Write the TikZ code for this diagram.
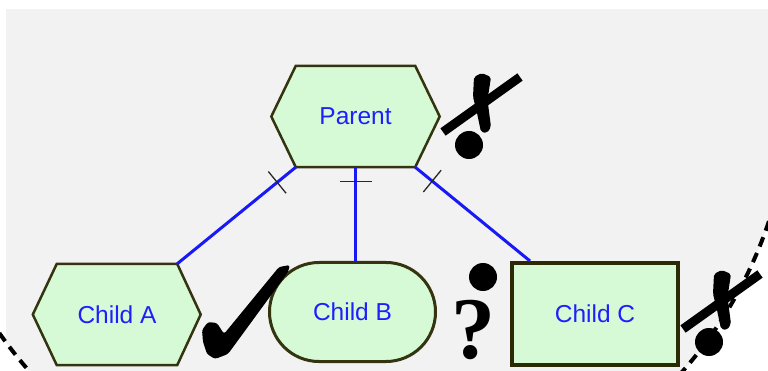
\documentclass[tikz,border=0pt]{standalone}
\usepackage{fontspec}
\setmainfont{Liberation Sans}
\newfontfamily\qfont{Liberation Serif}
\usetikzlibrary{calc,shapes.misc}
\pgfdeclarelayer{bg}
\pgfsetlayers{bg,main}

\definecolor{panel}{RGB}{242,242,242}
\definecolor{nodefill}{RGB}{214,250,214}
\definecolor{nodeline}{RGB}{52,52,16}
\definecolor{boxline}{RGB}{42,42,5}
\definecolor{labelblue}{RGB}{30,30,255}
\definecolor{linkblue}{RGB}{25,25,245}
\definecolor{tickgray}{RGB}{40,40,40}

\tikzset{
  box/.style={inner sep=0pt, text=labelblue, font=\fontsize{24.5}{28}\selectfont},
  hexbody/.style={box, minimum width=#1, minimum height=101pt},
  hexline/.style={fill=nodefill, draw=nodeline, line width=2.5pt, line join=miter},
  pillbox/.style={box, rounded rectangle, fill=nodefill, draw=nodeline, line width=3pt},
  plainbox/.style={box, rectangle, fill=nodefill, draw=boxline, line width=4pt},
  link/.style={draw=linkblue, line width=3pt},
  tickline/.style={draw=tickgray, line width=1.3pt},
  boundary/.style={draw=black, line width=4pt, dash pattern=on 10pt off 7pt},
  qmark/.style={inner sep=0pt, font=\qfont\bfseries\fontsize{88}{88}\selectfont},
  nomark/.pic={
    \draw[line width=9pt] (0,0) -- (77,-55);
    \fill[rounded corners=2pt] (30,-35) -- (31,-55) -- (38.7,-59) -- (48,-55)
      -- (44.5,-32) -- (48,-5) -- (44,1) -- (38,0) -- (34,-19) -- cycle;
    \fill (26,13) circle (14pt);
  }
}

\begin{document}
\begin{tikzpicture}[x=1pt,y=-1pt]
\useasboundingbox (0,0) rectangle (768,371);
\clip (0,0) rectangle (768,371);

% backdrop: grey panel inside the large dashed boundary circle
\begin{pgfonlayer}{bg}
  \fill[white] (0,0) rectangle (768,371);
  \begin{scope}
    \clip (356,84) circle (435pt);
    \fill[panel] (6,9) rectangle (768,371);
  \end{scope}
  \draw[boundary] (356,84) circle (435pt);
\end{pgfonlayer}

% nodes
\node[hexbody=119pt] (parent) at (355.5,116.5) {Parent};
\node[hexbody=120pt] (childA) at (117,314.5) {Child A};
\node[pillbox, minimum width=166pt, minimum height=99pt] (childB) at (352.5,312) {Child B};
\node[plainbox, minimum width=166pt, minimum height=102pt] (childC) at (595,314) {Child C};

% hexagon outlines behind the two hexagonal nodes
\begin{pgfonlayer}{bg}
  \draw[hexline] (parent.north west) -- (parent.north east) -- ([xshift=24.5pt]parent.east)
    -- (parent.south east) -- (parent.south west) -- ([xshift=-24.5pt]parent.west) -- cycle;
  \draw[hexline] (childA.north west) -- (childA.north east) -- ([xshift=23.5pt]childA.east)
    -- (childA.south east) -- (childA.south west) -- ([xshift=-24pt]childA.west) -- cycle;
\end{pgfonlayer}

% connectors
\coordinate (cC) at ([xshift=20pt]childC.north west);
\draw[link] (parent.south) -- (parent.south |- childB.north);
\draw[link] (parent.south west) -- (childA.north east);
\draw[link] (parent.south east) -- (cC);

% cardinality ticks near the parent
\coordinate (tA) at ($(parent.south west)!24pt!(childA.north east)$);
\draw[tickline] ($(tA)!14pt!90:(childA.north east)$) -- ($(tA)!14pt!-90:(childA.north east)$);
\coordinate (tB) at ($(parent.south)+(0,14)$);
\draw[tickline] ($(tB)+(-16,0)$) -- ($(tB)+(16,0)$);
\coordinate (tC) at ($(parent.south east)!22pt!(cC)$);
\draw[tickline] ($(tC)!14pt!90:(cC)$) -- ($(tC)!14pt!-90:(cC)$);

% check mark between Child A and Child B
\fill[black, rounded corners=2.5pt] (202,330) -- (208,322) -- (217,323) -- (224,334)
  -- (279,267) -- (290,265) -- (288,272) -- (228,354) -- (215,359) -- (207,354)
  -- (203,342) -- cycle;

% question mark with dot
\node[qmark, anchor=base] (qm) at (473.5,358) {?};
\fill (483,277) circle (14pt);

% crossed marks with dot
\pic at (443,132) {nomark};
\pic at (683,329) {nomark};
\end{tikzpicture}
\end{document}
